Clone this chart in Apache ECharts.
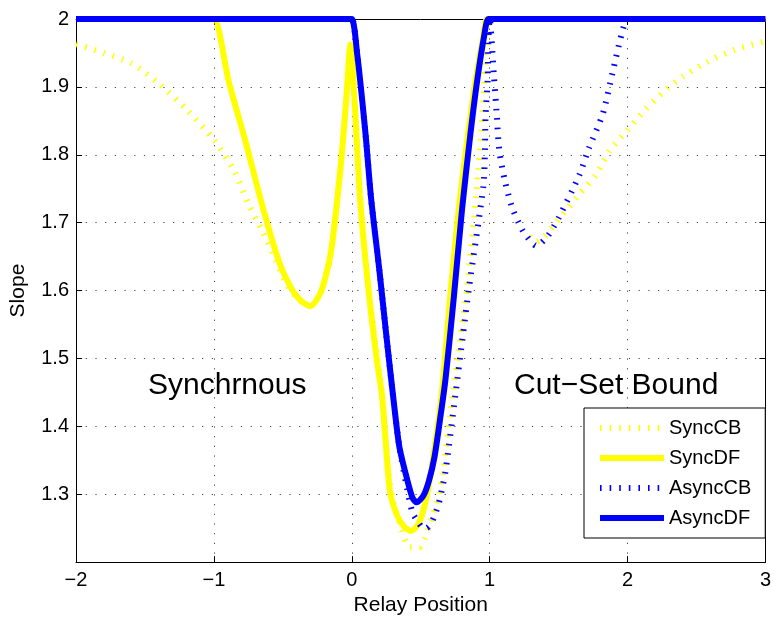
<!DOCTYPE html>
<html>
<head>
<meta charset="utf-8">
<script src="https://cdn.jsdelivr.net/npm/echarts@6/dist/echarts.min.js"></script>
<style>
  html, body { margin: 0; padding: 0; background: #fff; }
  #chart { width: 774px; height: 621px; }
</style>
</head>
<body>
<div id="chart"></div>
<script>
// relay position (x) and slope (y); null = gap in the curve
const syncCbX = [-2.0, -1.8, -1.6, -1.4, -1.2, -1.0, -0.85, -0.75, -0.65, -0.55, -0.48, -0.40, -0.30, -0.22, -0.15, -0.08, -0.04, -0.01,
  0.02, 0.06, 0.12, 0.22, 0.26, 0.30, 0.35, 0.42, 0.49, 0.53, 0.55, 0.585, 0.61, 0.635, 0.66, 0.73, 0.835, 0.905, 0.94, 0.955, 0.965, 0.98, 0.995,
  1.10, 1.29, 1.34, 1.40, 1.48, 1.56, 1.65, 1.77, 1.87, 2.0, 2.13, 2.29, 2.40, 2.58, 2.78, 3.0];
const syncCbY = [1.963, 1.950, 1.935, 1.905, 1.867, 1.822, 1.775, 1.728, 1.688, 1.645, 1.612, 1.590, 1.577, 1.600, 1.658, 1.784, 1.882, 1.962,
  1.880, 1.736, 1.604, 1.444, 1.340, 1.290, 1.255, 1.222, 1.222, 1.235, 1.247, 1.268, 1.285, 1.300, 1.330, 1.444, 1.604, 1.746, 1.834, 1.882, 1.930, 1.970, 2.0,
  null, 1.680, 1.672, 1.680, 1.700, 1.720, 1.742, 1.770, 1.806, 1.836, 1.867, 1.898, 1.915, 1.937, 1.955, 1.967];

const syncDfX = [-2.0, -1.05, -1.0, -0.89, -0.77, -0.65, -0.53, -0.44, -0.37, -0.30, -0.22, -0.15, -0.08, -0.04, -0.01,
  0.02, 0.06, 0.12, 0.18, 0.22, 0.26, 0.28, 0.33, 0.38, 0.43, 0.48, 0.53, 0.57, 0.65, 0.72, 0.785, 0.89, 0.95, 0.98, 1.02, 3.0];
const syncDfY = [2.0, 2.0, 2.0, 1.906, 1.819, 1.726, 1.644, 1.604, 1.585, 1.577, 1.600, 1.658, 1.784, 1.882, 1.962,
  1.880, 1.736, 1.604, 1.500, 1.444, 1.340, 1.300, 1.268, 1.252, 1.246, 1.255, 1.285, 1.327, 1.444, 1.604, 1.736, 1.900, 1.970, 2.0, 2.0, 2.0];

const asyncCbX = [-2.0, -0.04, 0.0, 0.04, 0.10, 0.14, 0.20, 0.25, 0.30, 0.345, 0.40, 0.44, 0.475, 0.51, 0.54, 0.57, 0.60, 0.63, 0.655, 0.68, 0.75, 0.85,
  0.955, 0.965, 0.97, 0.985, 0.99, 1.0, 1.03, 1.05, 1.07, 1.11, 1.16, 1.21, 1.25, 1.34, 1.42, 1.50, 1.65, 1.72, 1.82, 1.89, 1.96, 2.0, 2.04, 3.0];
const asyncCbY = [2.0, 2.0, 2.0, 1.947, 1.830, 1.736, 1.630, 1.535, 1.444, 1.370, 1.310, 1.273, 1.261, 1.251, 1.250, 1.255, 1.268, 1.286, 1.308, 1.334, 1.444, 1.604,
  1.755, 1.800, 1.857, 1.910, 1.965, 2.0, 1.918, 1.863, 1.806, 1.762, 1.724, 1.700, 1.685, 1.666, 1.680, 1.707, 1.770, 1.810, 1.860, 1.920, 1.980, 2.0, 2.0, 2.0];

const asyncDfX = [-2.0, -0.04, 0.0, 0.04, 0.10, 0.14, 0.20, 0.25, 0.30, 0.345, 0.40, 0.44, 0.47, 0.52, 0.56, 0.60, 0.64, 0.68, 0.74, 0.80, 0.86, 0.91, 0.96, 0.99, 1.03, 3.0];
const asyncDfY = [2.0, 2.0, 2.0, 1.947, 1.830, 1.736, 1.630, 1.535, 1.444, 1.370, 1.323, 1.295, 1.288, 1.298, 1.320, 1.355, 1.410, 1.470, 1.590, 1.720, 1.830, 1.910, 1.975, 2.0, 2.0, 2.0];

const seriesNames = ['SyncCB', 'SyncDF', 'AsyncCB', 'AsyncDF'];
const xTicks = [-2, 3, 1];      // min, max, step
const yTicks = [1.2, 2, 0.1];

function pairs(xs, ys) {
  return xs.map((x, i) => [x, ys[i] === null ? '-' : ys[i]]);
}

const FONT = 'Liberation Sans, Arial, Helvetica, sans-serif';
const YELLOW = '#ffff00';
const BLUE = '#0000ff';
const dotted = [1.6, 8];

const chart = echarts.init(document.getElementById('chart'), null, { renderer: 'canvas' });

function tickAxis(extra, range) {
  return Object.assign({
    type: 'value',
    min: range[0],
    max: range[1],
    interval: range[2],
    axisLine: { show: true, onZero: false, lineStyle: { color: '#000', width: 1 } },
    axisTick: { show: true, inside: true, length: 6, lineStyle: { color: '#000' } },
    axisLabel: { show: false },
    splitLine: { show: false }
  }, extra);
}

const option = {
  animation: false,
  backgroundColor: '#fff',
  grid: { left: 76, right: 3, top: 19, bottom: 56, containLabel: false },
  xAxis: [
    tickAxis({
      position: 'bottom',
      name: 'Relay Position',
      nameLocation: 'middle',
      nameGap: 30,
      nameTextStyle: { fontFamily: FONT, fontSize: 21, color: '#000' },
      axisLabel: {
        show: true, margin: 8, fontFamily: FONT, fontSize: 20, color: '#000',
        formatter: v => String(v).replace('-', '\u2212')
      },
      splitLine: { show: true, lineStyle: { color: '#444', type: [1.2, 8.5], width: 1 } }
    }, xTicks),
    tickAxis({ position: 'top' }, xTicks)
  ],
  yAxis: [
    tickAxis({
      position: 'left',
      name: 'Slope',
      nameLocation: 'middle',
      nameGap: 47,
      nameRotate: 90,
      nameTextStyle: { fontFamily: FONT, fontSize: 21, color: '#000' },
      axisLabel: {
        show: true, margin: 7, fontFamily: FONT, fontSize: 20, color: '#000',
        formatter: v => (v < 1.25 ? '' : (Math.abs(v - 2) < 1e-9 ? '2' : v.toFixed(1)))
      },
      splitLine: { show: true, lineStyle: { color: '#444', type: [1.2, 8.5], width: 1 } }
    }, yTicks),
    tickAxis({ position: 'right' }, yTicks)
  ],
  legend: {
    orient: 'vertical',
    left: 584,
    top: 408,
    width: 181,
    padding: [10, 14, 10, 13],
    itemWidth: 64,
    itemHeight: 20,
    itemGap: 10,
    backgroundColor: '#fff',
    borderColor: '#000',
    borderWidth: 1,
    borderRadius: 0,
    textStyle: { fontFamily: FONT, fontSize: 20, color: '#000' },
    itemStyle: { color: 'rgba(0,0,0,0)', borderWidth: 0, opacity: 0 },
    lineStyle: { width: 'inherit', type: 'inherit', cap: 'butt' },
    data: seriesNames
  },
  graphic: [
    { type: 'text', left: 148, top: 371, style: { text: 'Synchrnous', font: '30px ' + FONT, fill: '#000' } },
    { type: 'text', left: 514, top: 371, style: { text: 'Cut\u2212Set Bound', font: '30px ' + FONT, fill: '#000' } }
  ],
  series: [
    { name: seriesNames[0], data: pairs(syncCbX, syncCbY), color: YELLOW, lineStyle: { color: YELLOW, width: 6, type: dotted, cap: 'butt' } },
    { name: seriesNames[1], data: pairs(syncDfX, syncDfY), color: YELLOW, lineStyle: { color: YELLOW, width: 6, cap: 'butt', join: 'round' } },
    { name: seriesNames[2], data: pairs(asyncCbX, asyncCbY), color: BLUE, lineStyle: { color: BLUE, width: 6, type: dotted, cap: 'butt' } },
    { name: seriesNames[3], data: pairs(asyncDfX, asyncDfY), color: BLUE, lineStyle: { color: BLUE, width: 6, cap: 'butt', join: 'round' } }
  ].map(s => Object.assign({
    type: 'line',
    symbol: 'none',
    smooth: 0.25,
    connectNulls: false,
    clip: true,
    xAxisIndex: 0,
    yAxisIndex: 0
  }, s))
};

chart.setOption(option);
</script>
</body>
</html>
